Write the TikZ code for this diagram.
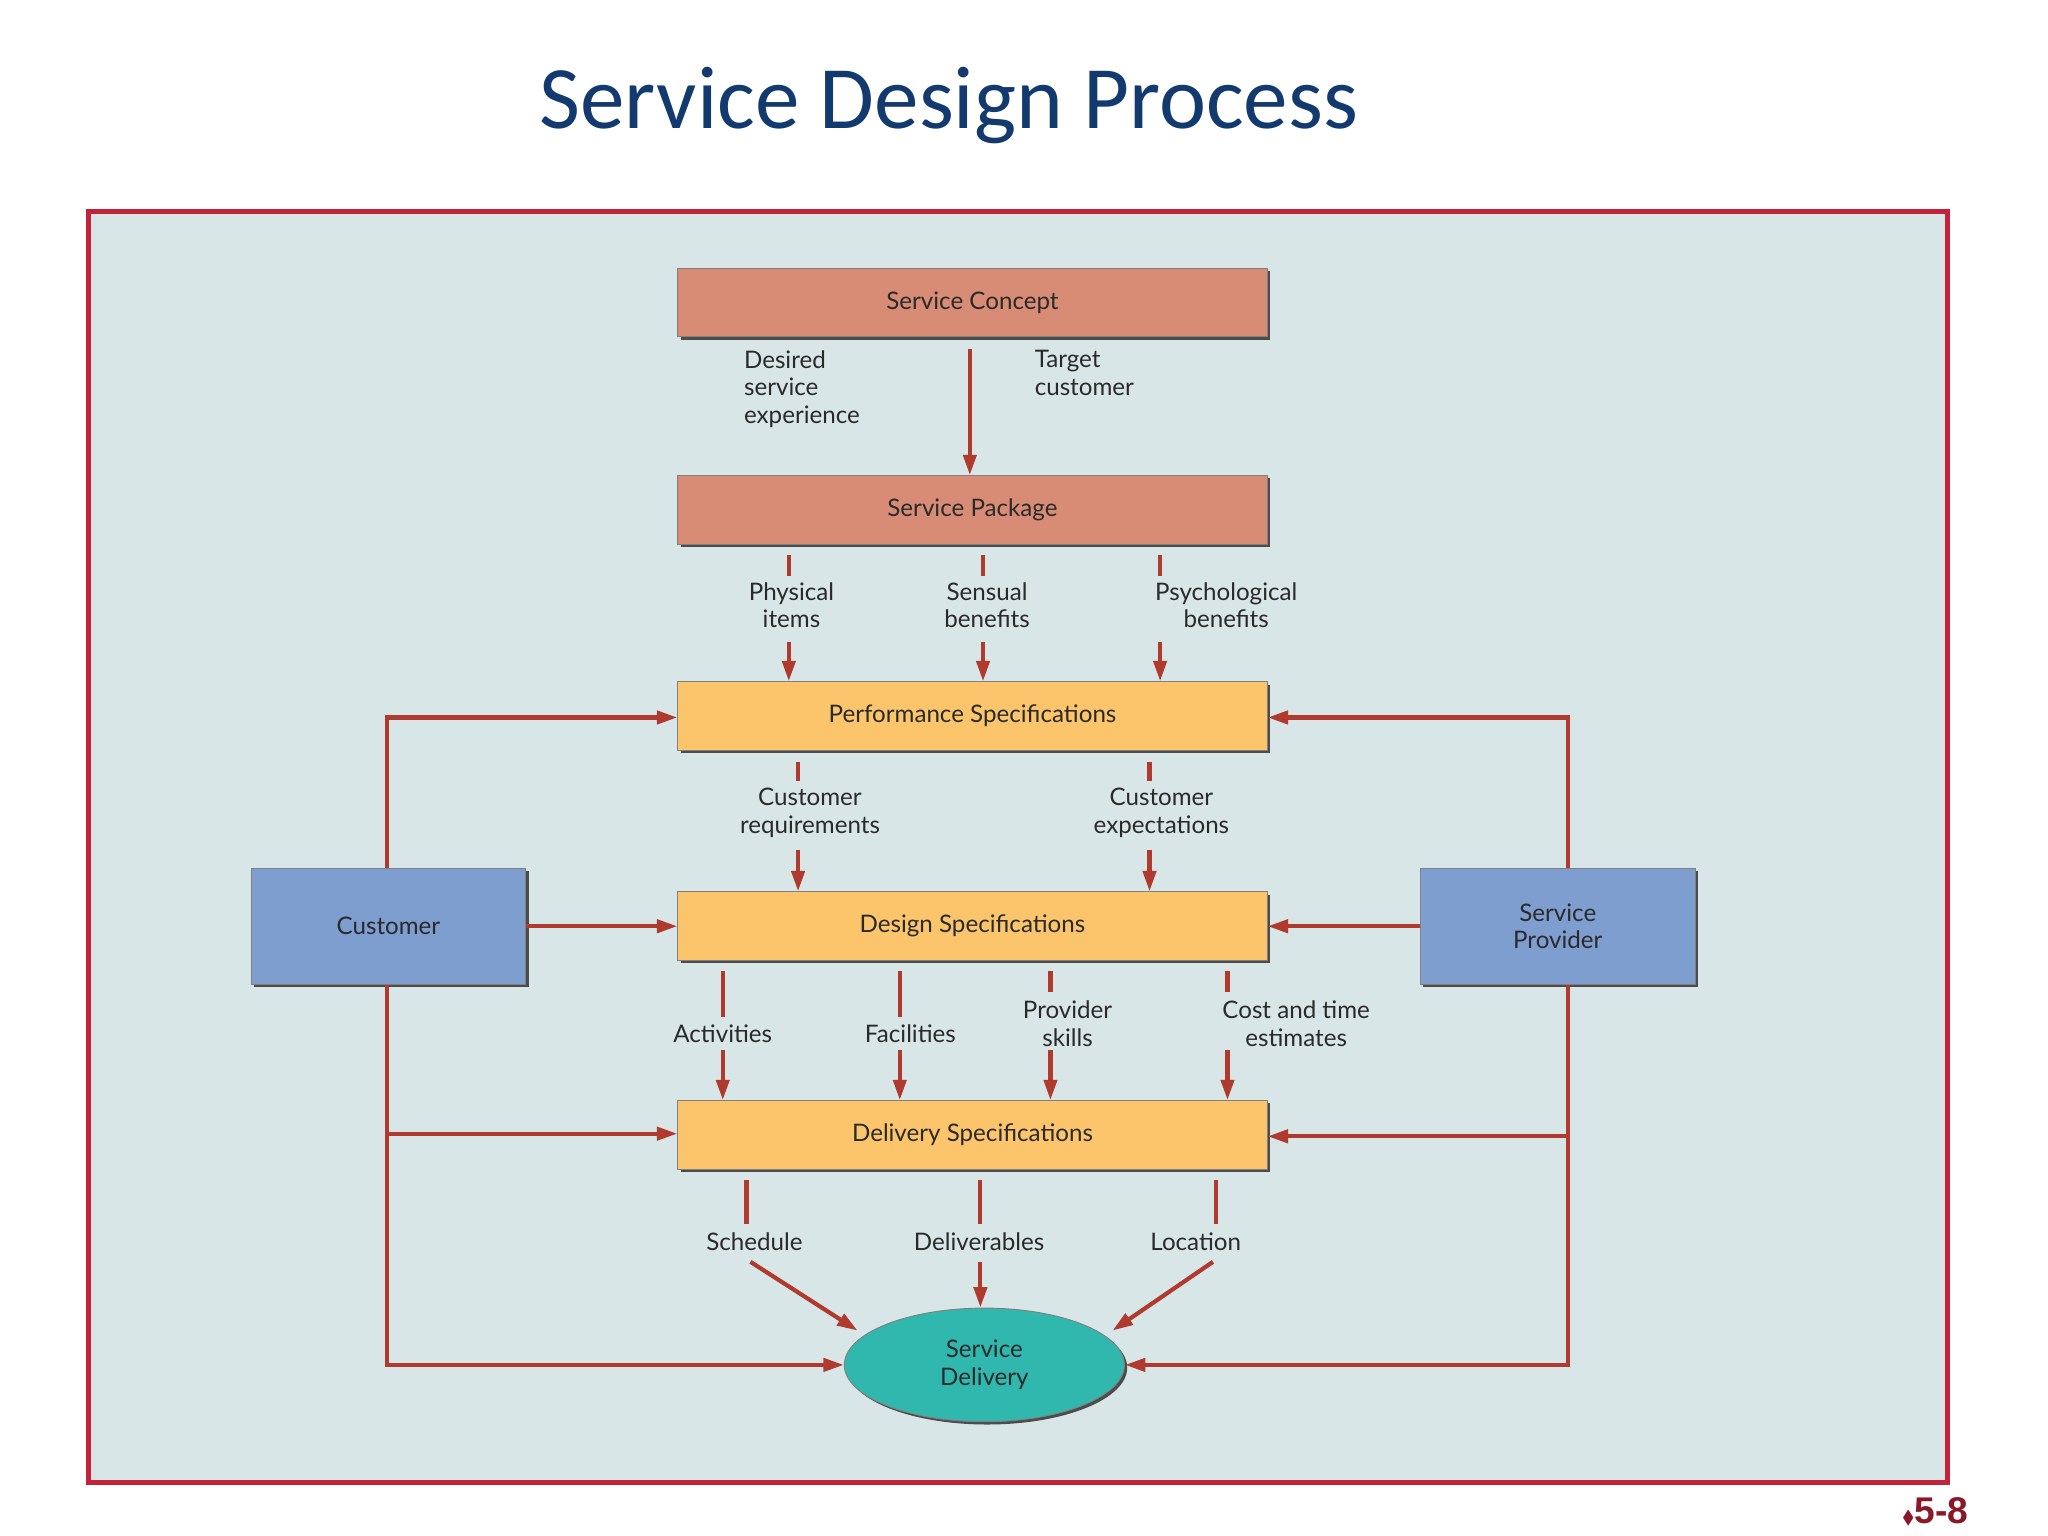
\documentclass[tikz,border=0pt]{standalone}
\usepackage{amssymb}
\usepackage{fontspec}
\setmainfont{Lato}
\newfontfamily\titlefont{Carlito}
\newfontfamily\numfont{Liberation Sans}
\usetikzlibrary{shapes.geometric,arrows.meta,shadows}
\definecolor{bgc}{HTML}{D9E6E8}
\definecolor{frame}{HTML}{C4223A}
\definecolor{salmon}{HTML}{D98C75}
\definecolor{gold}{HTML}{FCC56B}
\definecolor{blu}{HTML}{7E9ED0}
\definecolor{teal}{HTML}{30B8AF}
\definecolor{arr}{HTML}{B03A2E}
\definecolor{ttl}{HTML}{133A6E}
\definecolor{txt}{HTML}{2A2A2A}
\begin{document}
\begin{tikzpicture}[x=0.05cm,y=-0.05cm,
  box/.style={draw=black!50,line width=1pt,minimum width=446*0.05cm,minimum height=52*0.05cm,
     font=\fontsize{26}{30}\selectfont,text=txt,inner sep=0pt,
     drop shadow={shadow xshift=3pt,shadow yshift=-3pt,fill=black!70,opacity=1}},
  side/.style={box,fill=blu,minimum width=208*0.05cm,minimum height=88*0.05cm,align=center,font=\fontsize{26}{30}\selectfont},
  lbl/.style={font=\fontsize{26}{30}\selectfont,text=txt,align=center,inner sep=0pt},
  ln/.style={draw=arr,line width=4.5pt},
  ar/.style={ln,-{Triangle[length=22pt,width=14pt]}}]
\useasboundingbox (0,0) rectangle (1550,1162);
\fill[white] (0,0) rectangle (1550,1162);
\node[font=\titlefont\fontsize{96}{110}\selectfont,text=ttl] (title) at (718,80) {Service Design Process};
\draw[frame,fill=bgc,line width=5pt] (67,160) rectangle (1474,1122);
\node[font=\numfont\bfseries\fontsize{40}{44}\selectfont,text=frame!70!black,anchor=east] (num) at (1492,1144) {{\fontsize{20}{20}\selectfont$\blacklozenge$}5-8};

\node[box,fill=salmon] (sc) at (736,229) {Service Concept};
\node[box,fill=salmon] (sp) at (736,386) {Service Package};
\node[box,fill=gold] (ps) at (736,542) {Performance Specifications};
\node[box,fill=gold] (ds) at (736,701) {Design Specifications};
\node[box,fill=gold] (dl) at (736,859) {Delivery Specifications};
\node[side] (cu) at (294,701) {Customer};
\node[side] (pr) at (1179,701) {Service\\Provider};
\node[ellipse,draw=black!50,line width=1pt,fill=teal,minimum width=212*0.05cm,minimum height=86*0.05cm,
  font=\fontsize{26}{30}\selectfont,text=txt,align=center,inner sep=0pt,
  drop shadow={shadow xshift=3pt,shadow yshift=-3pt,fill=black!70,opacity=1}] (sd) at (745,1033) {Service\\Delivery};

% concept -> package
\coordinate (a1) at (734,264);
\draw[ar] (a1) -- (sp.north -| a1);
\node[lbl,align=left,anchor=north west] (l1) at (563,265) {Desired\\service\\experience};
\node[lbl,align=left,anchor=north west] (l2) at (783,265) {Target\\customer};

% package -> performance
\foreach \x/\n in {597/p1,744/p2,878/p3}{
  \coordinate (\n a) at (\x,420); \coordinate (\n b) at (\x,436);
  \coordinate (\n c) at (\x,486);
  \draw[ln] (\n a) -- (\n b);
  \draw[ar] (\n c) -- (ps.north -| \n c);
}
\node[lbl] (l3) at (599,458) {Physical\\items};
\node[lbl] (l4) at (747,458) {Sensual\\benefits};
\node[lbl] (l5) at (928,458) {Psychological\\benefits};

% performance -> design
\foreach \x/\n in {604/q1,870/q2}{
  \coordinate (\n a) at (\x,577); \coordinate (\n b) at (\x,591);
  \coordinate (\n c) at (\x,643);
  \draw[ln] (\n a) -- (\n b);
  \draw[ar] (\n c) -- (ds.north -| \n c);
}
\node[lbl] (l6) at (613,615) {Customer\\requirements};
\node[lbl] (l7) at (879,615) {Customer\\expectations};

% design -> delivery
\foreach \x/\e/\n in {547/770/r1,681/770/r2,795/751/r3,929/751/r4}{
  \coordinate (\n a) at (\x,735); \coordinate (\n b) at (\x,\e);
  \coordinate (\n c) at (\x,795);
  \draw[ln] (\n a) -- (\n b);
  \draw[ar] (\n c) -- (dl.north -| \n c);
}
\node[lbl] (l8) at (547,782) {Activities};
\node[lbl] (l9) at (689,782) {Facilities};
\node[lbl] (l10) at (808,775) {Provider\\skills};
\node[lbl] (l11) at (981,775) {Cost and time\\estimates};

% delivery -> service delivery
\foreach \x/\n in {565/s1,742/s2,920/s3}{
  \coordinate (\n a) at (\x,893); \coordinate (\n b) at (\x,926);
  \draw[ln] (\n a) -- (\n b);
}
\node[lbl] (l12) at (571,940) {Schedule};
\node[lbl] (l13) at (741,940) {Deliverables};
\node[lbl] (l14) at (905,940) {Location};
\coordinate (t1) at (568,955); \coordinate (t2) at (742,955); \coordinate (t3) at (918,955);
\coordinate (h1) at (649,1007); \coordinate (h3) at (842,1007);
\draw[ar] (t1) -- (h1);
\draw[ar] (t2) -- (sd.north -| t2);
\draw[ar] (t3) -- (h3);

% customer connectors
\coordinate (c1) at (293,543); \coordinate (c2) at (293,1033); \coordinate (c3) at (293,858);
\draw[ar] (cu.north -| c1) -- (c1) -- (ps.west |- c1);
\draw[ar] (cu.east) -- (ds.west);
\draw[ar] (cu.south -| c2) -- (c2) -- (sd.west);
\draw[ar] (c3) -- (dl.west |- c3);

% provider connectors
\coordinate (d1) at (1187,543); \coordinate (d2) at (1187,1033); \coordinate (d3) at (1187,860);
\draw[ar] (pr.north -| d1) -- (d1) -- (ps.east |- d1);
\draw[ar] (pr.west) -- (ds.east);
\draw[ar] (pr.south -| d2) -- (d2) -- (sd.east);
\draw[ar] (d3) -- (dl.east |- d3);
\end{tikzpicture}
\end{document}
